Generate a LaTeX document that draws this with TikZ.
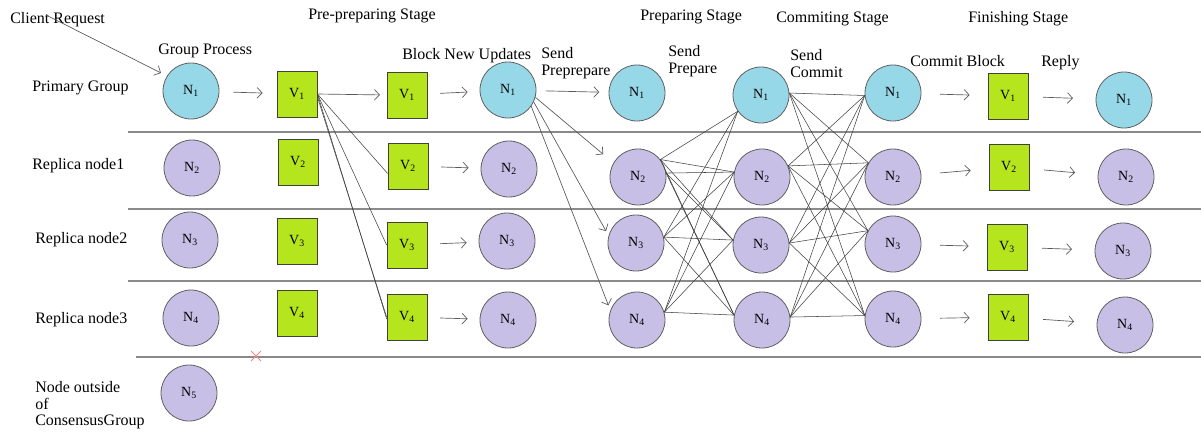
\documentclass[tikz,border=0pt]{standalone}
\usepackage{fontspec}
\setmainfont{Liberation Serif}
\usetikzlibrary{arrows.meta}
\definecolor{nblue}{HTML}{97D8E8}
\definecolor{npurple}{HTML}{C8BFE6}
\definecolor{vgreen}{HTML}{B5E61D}
\definecolor{edgegray}{HTML}{606060}
\definecolor{sepgray}{HTML}{8A8A8A}
\definecolor{xred}{HTML}{F08A8A}
\tikzset{
  nodebase/.style={circle, minimum size=42pt, inner sep=0pt, draw=edgegray, line width=0.6pt, font=\fontsize{10.5}{12}\selectfont},
  bnode/.style={nodebase, fill=nblue},
  pnode/.style={nodebase, fill=npurple},
  vbox/.style={rectangle, minimum width=30pt, minimum height=34.5pt, inner sep=0pt, draw=black!75, line width=0.6pt, fill=vgreen, font=\fontsize{10.5}{12}\selectfont},
  lbl/.style={anchor=west, inner sep=0pt, font=\fontsize{12}{14}\selectfont},
  arr/.style={draw=black!65, line width=0.5pt, -{Straight Barb[length=3.8pt,width=8pt]}, shorten <=10.5pt, shorten >=10.5pt},
  mesh/.style={draw=black!75, line width=0.4pt},
  sep/.style={draw=sepgray, line width=0.9pt},
}
\begin{document}
\begin{tikzpicture}[x=0.75pt,y=-0.75pt]
\useasboundingbox[fill=white] (0,0) rectangle (1201,437);

% separators
\draw[sep] (128,132) -- (1201,132);
\draw[sep] (128,209) -- (1201,209);
\draw[sep] (128,281) -- (1201,281);
\draw[sep] (136,357) -- (1201,357);

% red cross
\draw[xred, line width=0.6pt] (251,351) -- (261,361) (251,361) -- (261,351);

% labels
\node[lbl] (tcr) at (10,20) {Client Request};
\node[lbl] (tpre) at (308,16) {Pre-preparing Stage};
\node[lbl] (tgp) at (158,51) {Group Process};
\node[lbl] (tbnu) at (402,56) {Block New Updates};
\node[lbl, align=left, anchor=north west] (tspp) at (541,47) {Send\\[-1pt]Preprepare};
\node[lbl, align=left, anchor=north west] (tsp) at (668,45) {Send\\[-1pt]Prepare};
\node[lbl] (tps) at (640,17) {Preparing Stage};
\node[lbl] (tcs) at (776,19) {Commiting Stage};
\node[lbl] (tfs) at (968,19) {Finishing Stage};
\node[lbl, align=left, anchor=north west] (tsc) at (790,49) {Send\\[-1pt]Commit};
\node[lbl] (tcb) at (910,61) {Commit Block};
\node[lbl] (trp) at (1041,63) {Reply};
\node[lbl] (tr0) at (32,88) {Primary Group};
\node[lbl] (tr1) at (32,166) {Replica node1};
\node[lbl] (tr2) at (35,240) {Replica node2};
\node[lbl] (tr3) at (35,320) {Replica node3};
\node[lbl, align=left, anchor=north west] (tr4) at (35,381) {Node outside\\[-1.5pt]of\\[-1.5pt]ConsensusGroup};

% column 1
\node[bnode] (c1n1) at (191,91) {N\textsubscript{1}};
\node[pnode] (c1n2) at (192,168) {N\textsubscript{2}};
\node[pnode] (c1n3) at (190,240) {N\textsubscript{3}};
\node[pnode] (c1n4) at (191,318) {N\textsubscript{4}};
\node[pnode] (c1n5) at (189,393) {N\textsubscript{5}};
% column 2
\node[vbox] (c2v1) at (297,94) {V\textsubscript{1}};
\node[vbox] (c2v2) at (298,162) {V\textsubscript{2}};
\node[vbox] (c2v3) at (297,241) {V\textsubscript{3}};
\node[vbox] (c2v4) at (297,313) {V\textsubscript{4}};
% column 3
\node[vbox] (c3v1) at (407,95) {V\textsubscript{1}};
\node[vbox] (c3v2) at (408,166) {V\textsubscript{2}};
\node[vbox] (c3v3) at (407,245) {V\textsubscript{3}};
\node[vbox] (c3v4) at (407,317) {V\textsubscript{4}};
% column 4
\node[bnode] (c4n1) at (508,90) {N\textsubscript{1}};
\node[pnode] (c4n2) at (509,169) {N\textsubscript{2}};
\node[pnode] (c4n3) at (507,241) {N\textsubscript{3}};
\node[pnode] (c4n4) at (508,320) {N\textsubscript{4}};
% column 5
\node[bnode] (c5n1) at (637,93) {N\textsubscript{1}};
\node[pnode] (c5n2) at (638,177) {N\textsubscript{2}};
\node[pnode] (c5n3) at (636,243) {N\textsubscript{3}};
\node[pnode] (c5n4) at (637,320) {N\textsubscript{4}};
% column 6
\node[bnode] (c6n1) at (761,95) {N\textsubscript{1}};
\node[pnode] (c6n2) at (762,177) {N\textsubscript{2}};
\node[pnode] (c6n3) at (761,245) {N\textsubscript{3}};
\node[pnode] (c6n4) at (762,320) {N\textsubscript{4}};
% column 7
\node[bnode] (c7n1) at (893,93) {N\textsubscript{1}};
\node[pnode] (c7n2) at (893,177) {N\textsubscript{2}};
\node[pnode] (c7n3) at (893,244) {N\textsubscript{3}};
\node[pnode] (c7n4) at (893,319) {N\textsubscript{4}};
% column 8
\node[vbox] (c8v1) at (1008,96) {V\textsubscript{1}};
\node[vbox] (c8v2) at (1009,167) {V\textsubscript{2}};
\node[vbox] (c8v3) at (1007,247) {V\textsubscript{3}};
\node[vbox] (c8v4) at (1008,317) {V\textsubscript{4}};
% column 9
\node[bnode] (c9n1) at (1124,100) {N\textsubscript{1}};
\node[pnode] (c9n2) at (1126,177) {N\textsubscript{2}};
\node[pnode] (c9n3) at (1123,251) {N\textsubscript{3}};
\node[pnode] (c9n4) at (1125,325) {N\textsubscript{4}};

% client request
\coordinate (creq) at (46,15);
\draw[arr, shorten <=0pt, shorten >=5pt] (creq) -- (c1n1.148);

% group process
\draw[arr] (c1n1) -- (c2v1);

% pre-preparing fan
\draw[arr, shorten <=0pt, shorten >=5pt] (c2v1.east) -- (c3v1.west);
\draw[mesh] (c2v1.east) -- (c3v2.200);
\draw[mesh] (c2v1.east) -- (c3v3.west);
\draw[mesh] (c2v1.-8) -- (c3v4.west);
\draw[mesh] (c2v1.east) -- (c3v4.185);

% V -> N (block new updates)
\foreach \i in {1,2,3,4} {
  \draw[arr, shorten <=9.5pt, shorten >=9pt] (c3v\i) -- (c4n\i);
}

% send preprepare
\draw[arr, shorten <=7pt, shorten >=7pt] (c4n1) -- (c5n1);
\draw[arr, shorten <=0pt, shorten >=10pt] (c4n1.-15) -- (c5n2.150);
\draw[arr, shorten <=0pt, shorten >=4pt] (c4n1.-25) -- (c5n3.165);
\draw[arr, shorten <=0pt, shorten >=4pt] (c4n1.-35) -- (c5n4.160);

% send prepare mesh
\foreach \t/\a in {1/215,2/170,3/170,4/170} {
  \draw[mesh] (c5n2.38) -- (c6n\t.\a);
}
\foreach \t/\a in {2/170,3/170,4/170} {
  \draw[mesh] (c5n2.8) -- (c6n\t.\a);
}
\foreach \t/\a in {1/215,2/170,3/170,4/170} {
  \draw[mesh] (c5n3.12) -- (c6n\t.\a);
  \draw[mesh] (c5n4.16) -- (c6n\t.\a);
}

% send commit mesh
\foreach \s/\b in {1/4,2/23,3/4,4/6} {
  \foreach \t/\a in {1/185,2/150,3/152,4/173} {
    \draw[mesh] (c6n\s.\b) -- (c7n\t.\a);
  }
}

% commit block and reply
\foreach \i in {1,2,3,4} {
  \draw[arr, shorten <=14pt, shorten >=13.5pt] (c7n\i) -- (c8v\i);
  \draw[arr, shorten <=11pt, shorten >=17pt] (c8v\i) -- (c9n\i);
}
\end{tikzpicture}
\end{document}
